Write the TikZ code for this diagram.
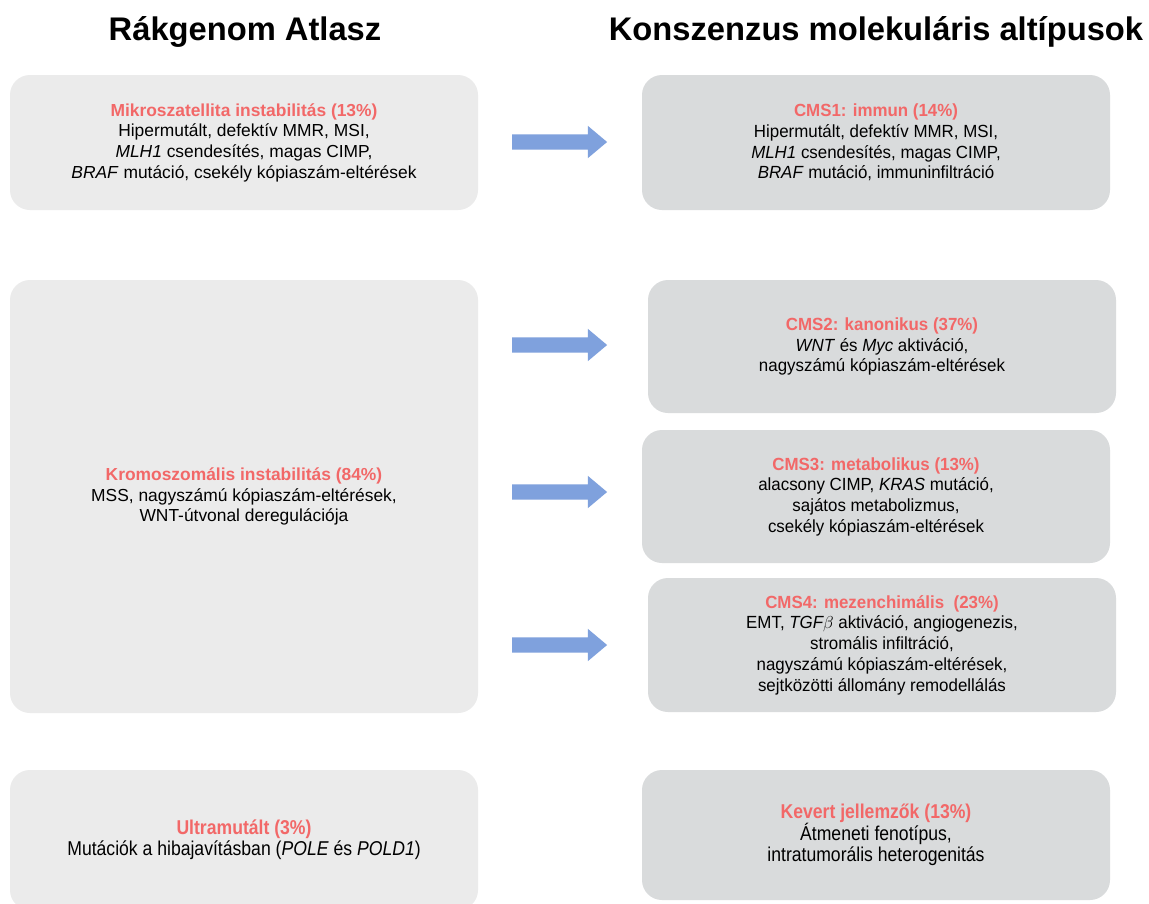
\documentclass[tikz,border=0pt]{standalone}
\usepackage{fontspec}
\setmainfont{Liberation Sans}
\newfontfamily\narrowsf[FakeStretch=0.96]{Liberation Sans}
\newfontfamily\tallsf[FakeStretch=0.88]{Liberation Sans}
\usetikzlibrary{shapes.arrows}
\definecolor{lightbox}{RGB}{235,235,235}
\definecolor{darkbox}{RGB}{217,219,220}
\definecolor{headred}{RGB}{242,104,104}
\definecolor{arrowblue}{RGB}{127,161,221}
\newcommand{\hd}[1]{\textcolor{headred}{\textbf{#1}}}

\begin{document}
\begin{tikzpicture}[x=1pt,y=-1pt,
    tcga/.style={fill=lightbox,rounded corners=20pt,minimum width=468pt,align=center,
      font=\fontsize{17.4}{20.7}\selectfont},
    cms/.style={fill=darkbox,rounded corners=20pt,minimum width=468pt,align=center,
      font=\narrowsf\fontsize{17.6}{20.7}\selectfont},
    tallbox/.style={font=\tallsf\fontsize{20}{21}\selectfont},
    colhead/.style={anchor=base,font=\bfseries\fontsize{32.7}{38}\selectfont},
    bluearrow/.style={single arrow,fill=arrowblue,minimum height=95pt,
      inner xsep=0pt,inner ysep=7.5pt,single arrow head extend=8.5pt,single arrow tip angle=80}]
  \useasboundingbox[fill=white] (0,0) rectangle (1149,903);

  \node[colhead] (tcgahead) at (245,40) {Rákgenom Atlasz};
  \node[colhead] (cmshead) at (876,40) {Konszenzus molekuláris altípusok};

  % Rakgenom Atlasz
  \node[tcga,minimum height=135pt] (msi) at (244,142.5) {\hd{Mikroszatellita instabilitás (13\%)}\\
    Hipermutált, defektív MMR, MSI,\\
    \textit{MLH1} csendesítés, magas CIMP,\\
    \textit{BRAF} mutáció, csekély kópiaszám-eltérések};
  \node[tcga,minimum height=433pt] (cin) at (244,496.5) {\hd{Kromoszomális instabilitás (84\%)}\\
    MSS, nagyszámú kópiaszám-eltérések,\\
    WNT-útvonal deregulációja};
  \node[tcga,tallbox,minimum height=140pt] (ultra) at (244,840) {\hd{Ultramutált (3\%)}\\
    Mutációk a hibajavításban (\textit{POLE} és \textit{POLD1})};

  % CMS
  \node[cms,minimum height=135pt] (cms1) at (876,142.5) {\hd{CMS1: immun (14\%)}\\
    Hipermutált, defektív MMR, MSI,\\
    \textit{MLH1} csendesítés, magas CIMP,\\
    \textit{BRAF} mutáció, immuninfiltráció};
  \node[cms,minimum height=133pt] (cms2) at (882,346.5) {\hd{CMS2: kanonikus (37\%)}\\
    \textit{WNT} és \textit{Myc} aktiváció,\\
    nagyszámú kópiaszám-eltérések};
  \node[cms,minimum height=133pt] (cms3) at (876,496.5) {\hd{CMS3: metabolikus (13\%)}\\
    alacsony CIMP, \textit{KRAS} mutáció,\\
    sajátos metabolizmus,\\
    csekély kópiaszám-eltérések};
  \node[cms,minimum height=134pt] (cms4) at (882,645) {\hd{CMS4: mezenchimális\ \ (23\%)}\\
    EMT, \textit{TGF$\beta$} aktiváció, angiogenezis,\\
    stromális infiltráció,\\
    nagyszámú kópiaszám-eltérések,\\
    sejtközötti állomány remodellálás};
  \node[cms,tallbox,minimum height=130pt] (mixed) at (876,835) {\hd{Kevert jellemzők (13\%)}\\
    Átmeneti fenotípus,\\
    intratumorális heterogenitás};

  % nyilak
  \node[bluearrow] (a1) at (555,142) {};
  \node[bluearrow] (a2) at (555,345) {};
  \node[bluearrow] (a3) at (555,492) {};
  \node[bluearrow] (a4) at (555,645) {};
\end{tikzpicture}
\end{document}
